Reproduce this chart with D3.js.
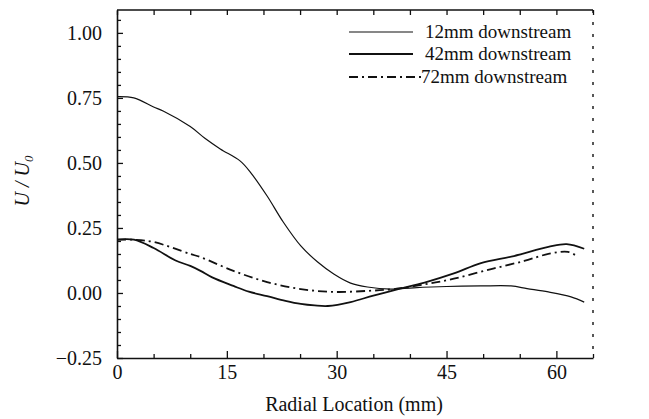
<!DOCTYPE html>
<html><head><meta charset="utf-8">
<script src="https://cdn.jsdelivr.net/npm/d3@7/dist/d3.min.js"></script>
<style>body{margin:0;background:#fff}</style>
</head><body><svg id="c" width="649" height="419" style="font-family:'Liberation Serif'"></svg>
<script>
const seriesNames = ["12mm downstream", "42mm downstream", "72mm downstream"];
const xA = [0,2.3,5,6.3,10,12,14.1,16.8,18.2,20.5,22.7,25.1,27.4,29.6,31.9,34.2,37.4,40.5,45,49.7,53.8,56,58.9,62,63.8];
const yA = [0.755,0.75,0.715,0.70,0.64,0.595,0.554,0.508,0.465,0.373,0.273,0.181,0.119,0.073,0.038,0.023,0.015,0.02,0.025,0.027,0.027,0.017,0.004,-0.015,-0.035];
const xB = [0,2.3,5,8,10,11.4,13,15.9,18,20.5,23,25.1,27,28.8,31.9,35,38.4,42,46,49.7,54.2,58.9,61.4,63.8];
const yB = [0.205,0.205,0.173,0.125,0.104,0.085,0.06,0.027,0.005,-0.012,-0.03,-0.042,-0.048,-0.05,-0.035,-0.01,0.015,0.04,0.075,0.115,0.142,0.177,0.188,0.17];
const xC = [0,2.3,5,10,11.4,15.9,20.5,25.1,29.6,34.2,37.8,42,46,51.1,55.6,58.9,61.6,63];
const yC = [0.205,0.205,0.196,0.15,0.138,0.085,0.042,0.015,0.004,0.008,0.015,0.033,0.055,0.092,0.123,0.15,0.158,0.138];
const xTicks = [0,15,30,45,60];
const yTicks = [-0.25,0,0.25,0.5,0.75,1.0];

const FONT = "Liberation Serif";
const svg = d3.select("#c");
const L=117,R=593,T=10,B=358;
const x = d3.scaleLinear().domain([0,65]).range([L,R]);
const y = d3.scaleLinear().domain([-0.25,1.088]).range([B,T]);

svg.append("line").attr("x1",L).attr("x2",R).attr("y1",T).attr("y2",T).attr("stroke","#111").attr("stroke-width",1.6);
svg.append("line").attr("x1",R).attr("x2",R).attr("y1",T).attr("y2",B).attr("stroke","#111").attr("stroke-width",1.4).attr("stroke-dasharray","3,9");

const fmt = d => (d<0?"\u2212":"")+Math.abs(d).toFixed(2);
const gx = svg.append("g").attr("transform",`translate(0,${B})`)
  .call(d3.axisBottom(x).tickValues(d3.range(0,66,5)).tickSizeInner(-6).tickSizeOuter(0).tickPadding(7)
    .tickFormat(d=>xTicks.includes(d)?d:""));
gx.selectAll(".tick line").attr("y2",d=>xTicks.includes(d)?-7:-4);
const gy = svg.append("g").attr("transform",`translate(${L},0)`)
  .call(d3.axisLeft(y).tickValues(d3.range(-0.25,1.06,0.05).map(v=>+v.toFixed(2))).tickSizeInner(-6).tickSizeOuter(0).tickPadding(15)
    .tickFormat(d=>yTicks.some(t=>Math.abs(t-d)<1e-6)?fmt(d):""));
gy.selectAll(".tick line").attr("x2",d=>yTicks.some(t=>Math.abs(t-d)<1e-6)?6:4);
const gt = svg.append("g").attr("transform",`translate(0,${T})`)
  .call(d3.axisTop(x).tickValues(d3.range(0,66,5)).tickSizeInner(-5).tickSizeOuter(0).tickFormat(""));
[gx,gy,gt].forEach(g=>{g.attr("font-family",FONT).attr("font-size",20);
  g.select(".domain").attr("stroke","#111").attr("stroke-width",1.6);g.selectAll(".tick line").attr("stroke","#111").attr("stroke-width",1.3);
  g.selectAll("text").attr("font-family",FONT).attr("font-size",20).attr("fill","#111");});
gt.select(".domain").remove();

const line = d3.line().x(d=>x(d[0])).y(d=>y(d[1])).curve(d3.curveCatmullRom);
const styles = [{w:1.2,dash:null},{w:1.8,dash:null},{w:1.8,dash:"9,4,2,4"}];
const data = [d3.zip(xA,yA), d3.zip(xB,yB), d3.zip(xC,yC)];
data.forEach((d,i)=>{
  svg.append("path").attr("d",line(d)).attr("fill","none").attr("stroke","#111")
    .attr("stroke-width",styles[i].w).attr("stroke-dasharray",styles[i].dash);
});

const legY=[32,54,77];
seriesNames.forEach((n,i)=>{
  svg.append("line").attr("x1",349).attr("x2",i==2?421:413).attr("y1",legY[i]).attr("y2",legY[i])
    .attr("stroke","#111").attr("stroke-width",styles[i].w).attr("stroke-dasharray",styles[i].dash);
  svg.append("text").attr("x",i==2?421:425).attr("y",legY[i]+6).attr("font-family",FONT).attr("font-size",19).attr("fill","#111").text(n);
});

svg.append("text").attr("x",354).attr("y",411).attr("text-anchor","middle").attr("font-family",FONT).attr("font-size",20).attr("fill","#111").text("Radial Location (mm)");
const yl = svg.append("text").attr("transform","translate(29,181) rotate(-90)").attr("text-anchor","middle")
  .attr("font-family",FONT).attr("font-size",20).attr("font-style","italic").attr("fill","#111");
yl.append("tspan").text("U / U");
yl.append("tspan").attr("font-size",13).attr("dy",4).text("0");
</script></body></html>
